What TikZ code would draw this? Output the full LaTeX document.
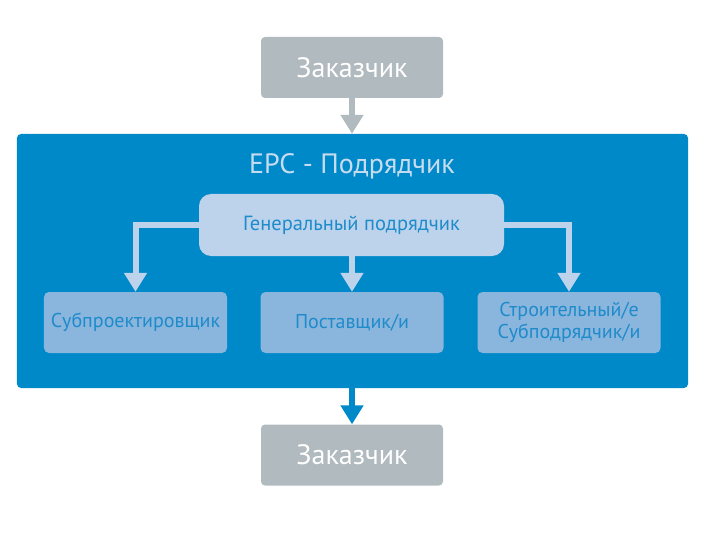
\documentclass[tikz,border=0pt]{standalone}
\usepackage{fontspec}
\setmainfont{PT Sans}
\usetikzlibrary{arrows.meta}
\definecolor{epcblue}{HTML}{0089C9}
\definecolor{clientgray}{HTML}{B1BABE}
\definecolor{genlight}{HTML}{BDD3EC}
\definecolor{subblue}{HTML}{8AB5DD}
\definecolor{titlelight}{HTML}{C8DCF0}
\definecolor{textblue}{HTML}{1E8BCB}
\tikzset{
  clientbox/.style={rectangle, fill=clientgray, rounded corners=4bp, minimum width=182bp, minimum height=61bp, inner sep=0pt, text=white, font=\fontsize{28bp}{32bp}\selectfont},
  genbox/.style={rectangle, fill=genlight, rounded corners=12bp, minimum width=305bp, minimum height=62bp, inner sep=0pt, text=textblue, font=\fontsize{20.5bp}{24bp}\selectfont},
  subbox/.style={rectangle, fill=subblue, rounded corners=5bp, minimum width=183bp, minimum height=61bp, inner sep=0pt, text=textblue, align=center, font=\fontsize{20bp}{22bp}\selectfont},
  panel/.style={rectangle, fill=epcblue, rounded corners=4bp, minimum width=671bp, minimum height=254bp, inner sep=0pt},
  flow/.style={line width=6bp, -{Triangle[width=22bp,length=19bp]}},
}
\begin{document}
\begin{tikzpicture}[x=1bp,y=-1bp]
\useasboundingbox (0,0) rectangle (705,536);
\node[panel] (epc) at (352.5,261) {};
\node[text=titlelight, font=\fontsize{28bp}{32bp}\selectfont] (title) at (352,166) {EPC - Подрядчик};
\node[clientbox] (top) at (352,67.5) {Заказчик};
\node[clientbox] (bot) at (352,455) {Заказчик};
\node[genbox] (gen) at (351.5,225) {Генеральный подрядчик};
\node[subbox] (s1) at (135.5,322.5) {Субпроектировщик};
\node[subbox] (s2) at (352,322.5) {Поставщик/и};
\node[subbox] (s3) at (569,322.5) {Строительный/е\\Субподрядчик/и};
\draw[flow, draw=clientgray] (top.south) -- (epc.north -| top.south);
\draw[flow, draw=epcblue] (epc.south -| bot.north) -- (bot.north);
\draw[flow, draw=genlight] (gen.south -| s2.north) -- (s2.north);
\draw[flow, draw=genlight] (gen.west) -| (s1.north);
\draw[flow, draw=genlight] (gen.east) -| (s3.north);
\end{tikzpicture}
\end{document}
